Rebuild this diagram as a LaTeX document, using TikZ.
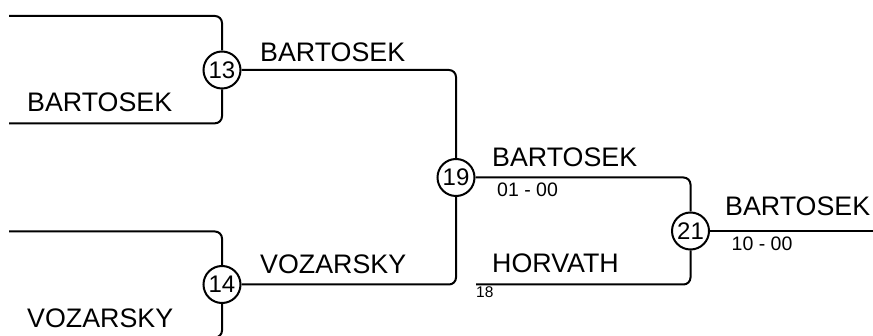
\documentclass[tikz,border=0pt]{standalone}
\usepackage{fontspec}
\setmainfont{Liberation Sans}
\begin{document}
\begin{tikzpicture}[x=1pt,y=-1pt,
  ln/.style={line width=2pt,rounded corners=7pt},
  seed/.style={circle,draw,line width=2pt,fill=white,minimum size=37pt,inner sep=0pt,font=\fontsize{24}{24}\selectfont},
  pname/.style={anchor=base west,inner sep=0pt,font=\fontsize{26.8}{26.8}\selectfont},
  score/.style={anchor=base west,inner sep=0pt,font=\fontsize{19.5}{19.5}\selectfont},
  tinyscore/.style={anchor=base west,inner sep=0pt,font=\fontsize{15.5}{15.5}\selectfont}]
\useasboundingbox (0,0) rectangle (873,336);
\node[seed] (c13) at (222,70) {13};
\node[seed] (c14) at (222,284.5) {14};
\node[seed] (c19) at (456,177.5) {19};
\node[seed] (c21) at (690.5,231) {21};
\coordinate (t1) at (9,16);
\coordinate (b1) at (9,123.3);
\coordinate (t2) at (9,231.5);
\coordinate (b2) at (9,337.5);
\coordinate (h) at (476,284.5);
\coordinate (e) at (874,231);
\draw[ln] (t1) -| (c13.north);
\draw[ln] (b1) -| (c13.south);
\draw[ln] (t2) -| (c14.north);
\draw[ln] (b2) -| (c14.south);
\draw[ln] (c13.east) -| (c19.north);
\draw[ln] (c14.east) -| (c19.south);
\draw[ln] (c19.east) -| (c21.north);
\draw[ln] (h) -| (c21.south);
\draw[ln] (c21.east) -- (e);
\node[pname] (n1) at (27,111.7) {BARTOSEK};
\node[pname] (n2) at (260,62) {BARTOSEK};
\node[pname] (n3) at (260,274) {VOZARSKY};
\node[pname] (n4) at (27,328) {VOZARSKY};
\node[pname] (n5) at (492,166.5) {BARTOSEK};
\node[score] (s1) at (497,197) {01 - 00};
\node[pname] (n6) at (492,273) {HORVATH};
\node[tinyscore] (s2) at (476,298) {18};
\node[pname] (n7) at (725,215.7) {BARTOSEK};
\node[score] (s3) at (731.5,250.5) {10 - 00};
\end{tikzpicture}
\end{document}
